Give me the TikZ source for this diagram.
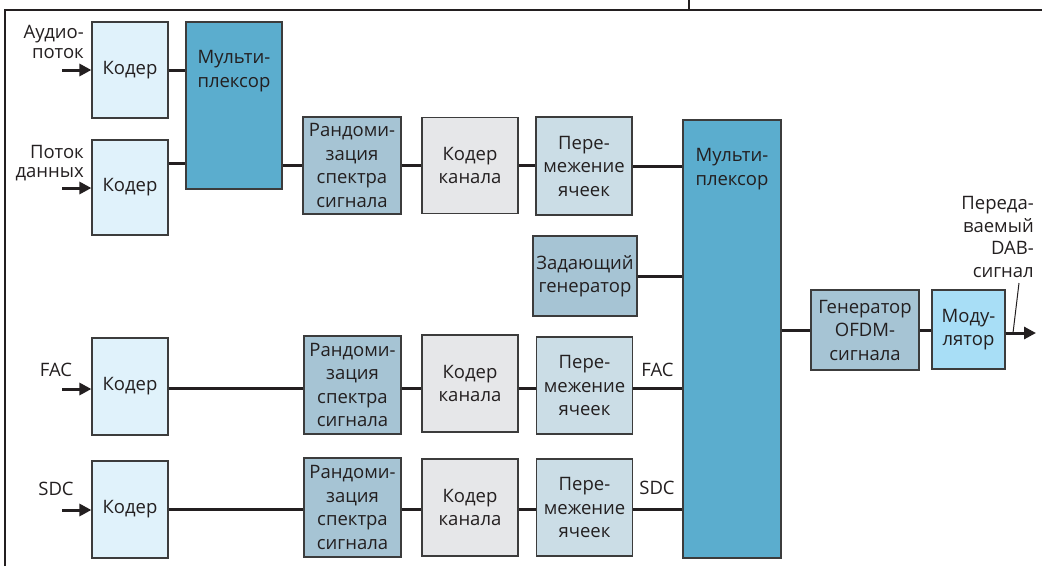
\documentclass[tikz,border=0pt]{standalone}
\usepackage{fontspec}
\setmainfont{Open Sans}
\usetikzlibrary{arrows.meta}
\definecolor{cod}{RGB}{224,242,251}
\definecolor{mux}{RGB}{91,173,206}
\definecolor{rnd}{RGB}{166,196,212}
\definecolor{chc}{RGB}{230,231,233}
\definecolor{ilv}{RGB}{203,221,230}
\definecolor{mdl}{RGB}{168,222,246}
\definecolor{bord}{RGB}{60,60,60}
\definecolor{txt}{RGB}{35,31,32}
\newcommand\bfnt{\fontsize{18.5}{23.5}\selectfont}
\newcommand\lfnt{\fontsize{18.5}{19.5}\selectfont}
\newcommand\dfnt{\fontsize{18.5}{22.5}\selectfont}
\begin{document}
\begin{tikzpicture}[x=1pt,y=-1pt,
  box/.style={draw=bord, line width=1.2pt, inner sep=0pt, align=center, text=txt, font=\bfnt},
  coderbox/.style={box, fill=cod, minimum width=76pt},
  muxbox/.style={box, fill=mux},
  rndbox/.style={box, fill=rnd},
  chcbox/.style={box, fill=chc, minimum width=96pt},
  ilvbox/.style={box, fill=ilv, minimum width=96pt},
  boxtext/.style={inner sep=0pt, align=center, text=txt, font=\bfnt},
  conn/.style={line width=3pt, draw=txt},
  arr/.style={conn, -{Triangle[length=12pt,width=12pt]}},
  lbl/.style={text=txt, font=\lfnt, inner sep=0pt, align=right},
  frame/.style={draw=txt, line width=1.2pt},
  pointer/.style={draw=txt, line width=1pt}
]
\useasboundingbox (0,0) rectangle (1042,566);
\draw[frame] (5,566) -- (5,10) -- (1042,10);
\draw[frame] (689,0) -- (689,10);

% top section
\node[coderbox, minimum height=96pt] (c1) at (130,70) {Кодер};
\node[coderbox, minimum height=95pt] (c2) at (130,187.5) {Кодер};
\node[muxbox, minimum width=96pt, minimum height=167pt] (m1) at (234,105.5) {};
\node[boxtext, anchor=north] (m1t) at ([yshift=-29pt]m1.north) {Мульти-\\плексор};
\node[rndbox, minimum width=98pt, minimum height=97pt] (r1) at (352,165.5) {Рандоми-\\зация\\спектра\\сигнала};
\node[chcbox, minimum height=96pt] (k1) at (470,165.5) {Кодер\\канала};
\node[ilvbox, minimum height=98pt] (i1) at (584,166) {Пере-\\межение\\ячеек};
\node[rndbox, minimum width=104pt, minimum height=80pt] (z) at (585,276) {Задающий\\генератор};
\node[muxbox, minimum width=98pt, minimum height=438pt] (m2) at (732,339) {};
\node[boxtext, anchor=north] (m2t) at ([yshift=-29pt]m2.north) {Мульти-\\плексор};
\node[rndbox, minimum width=108pt, minimum height=80pt] (o) at (865,330) {Генератор\\OFDM-\\сигнала};
\node[box, fill=mdl, minimum width=73pt, minimum height=79pt] (md) at (968.5,329.5) {Моду-\\лятор};

% FAC row
\node[coderbox, minimum height=97pt] (c3) at (130,386.5) {Кодер};
\node[rndbox, minimum width=97pt, minimum height=98pt] (r3) at (352.5,385) {Рандоми-\\зация\\спектра\\сигнала};
\node[chcbox, minimum height=97pt] (k3) at (470,383.5) {Кодер\\канала};
\node[ilvbox, minimum height=97pt] (i3) at (584.5,385.5) {Пере-\\межение\\ячеек};

% SDC row
\node[coderbox, minimum height=97pt] (c4) at (130,509.5) {Кодер};
\node[rndbox, minimum width=97pt, minimum height=99pt] (r4) at (352.5,507.5) {Рандоми-\\зация\\спектра\\сигнала};
\node[chcbox, minimum height=97pt] (k4) at (470,507.5) {Кодер\\канала};
\node[ilvbox, minimum height=97pt] (i4) at (584.5,507.5) {Пере-\\межение\\ячеек};

% labels
\node[lbl, anchor=east] (l1) at (84,42) {Аудио-\\поток};
\node[lbl, anchor=east] (l2) at (84,163) {Поток\\данных};
\node[lbl] (l3) at (56,370) {FAC};
\node[lbl] (l4) at (56,489) {SDC};
\node[lbl] (l5) at (657.5,370) {FAC};
\node[lbl] (l6) at (657,488) {SDC};
\node[lbl, anchor=east, font=\dfnt] (l7) at (1034,237) {Переда-\\ваемый\\DAB-\\сигнал};

% connectors
\draw[conn] (c1.east) -- (c1.east -| m1.west);
\draw[conn] (c2.east |- 0,163) -- (m1.west |- 0,163);
\draw[conn] (m1.east |- 0,165) -- (r1.west |- 0,165);
\draw[conn] (r1.east |- 0,165) -- (k1.west |- 0,165);
\draw[conn] (k1.east |- 0,165) -- (i1.west |- 0,165);
\draw[conn] (i1.east |- 0,166) -- (m2.west |- 0,166);
\draw[conn] (z.east) -- (m2.west |- z.east);
\draw[conn] (m2.east |- o.west) -- (o.west);
\draw[conn] (o.east) -- (md.west |- o.east);
\coordinate (out) at (1036,333);
\draw[arr] (md.east |- out) -- (out);
\coordinate (p1) at (1019,283);
\coordinate (p2) at (1013,333);
\draw[pointer] (p1) -- (p2);

\draw[conn] (c3.east |- 0,388) -- (r3.west |- 0,388);
\draw[conn] (r3.east |- 0,388) -- (k3.west |- 0,388);
\draw[conn] (k3.east |- 0,388) -- (i3.west |- 0,388);
\draw[conn] (i3.east |- 0,388) -- (m2.west |- 0,388);

\draw[conn] (c4.east |- 0,509) -- (r4.west |- 0,509);
\draw[conn] (r4.east |- 0,509) -- (k4.west |- 0,509);
\draw[conn] (k4.east |- 0,509) -- (i4.west |- 0,509);
\draw[conn] (i4.east |- 0,509) -- (m2.west |- 0,509);

% inputs
\coordinate (a1) at (62,70);
\coordinate (a2) at (62,188);
\coordinate (a3) at (62,389);
\coordinate (a4) at (62,510);
\draw[arr] (a1) -- (c1.west |- a1);
\draw[arr] (a2) -- (c2.west |- a2);
\draw[arr] (a3) -- (c3.west |- a3);
\draw[arr] (a4) -- (c4.west |- a4);
\end{tikzpicture}
\end{document}
